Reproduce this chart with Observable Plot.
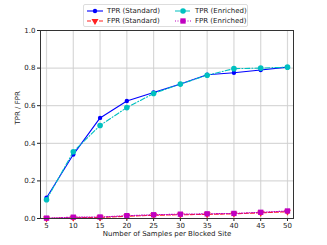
<!DOCTYPE html>
<html>
<head>
<meta charset="utf-8">
<script src="https://cdn.jsdelivr.net/npm/d3@7"></script>
<script src="https://cdn.jsdelivr.net/npm/@observablehq/plot@0.6"></script>
<style>
  html, body { margin: 0; padding: 0; background: #fff; }
  #wrap { position: relative; width: 327px; height: 245px; font-family: "DejaVu Sans", sans-serif; }
  #legend { position: absolute; left: 83px; top: 4px; width: 165px; height: 23px; border: 1px solid #ddd; border-radius: 2px; background: #fff; font-size: 7px; color: #222; box-sizing: border-box; }
  .item { position: absolute; display: flex; align-items: center; height: 10px; white-space: nowrap; }
  .item svg { margin-right: 4px; }
</style>
</head>
<body>
<div id="wrap"><div id="chart"></div><div id="legend"></div></div>
<script>
const samples = [5, 10, 15, 20, 25, 30, 35, 40, 45, 50];
const tprStandard = [0.11, 0.34, 0.535, 0.625, 0.67, 0.715, 0.765, 0.775, 0.79, 0.805];
const fprStandard = [0.0, 0.004, 0.006, 0.012, 0.017, 0.02, 0.022, 0.025, 0.03, 0.036];
const tprEnriched = [0.10, 0.355, 0.495, 0.59, 0.665, 0.715, 0.762, 0.797, 0.80, 0.805];
const fprEnriched = [0.002, 0.007, 0.008, 0.015, 0.02, 0.023, 0.025, 0.027, 0.033, 0.04];
const yTicks = [0, 0.2, 0.4, 0.6, 0.8, 1.0];

const seriesDefs = [
  {name: "TPR (Standard)", values: tprStandard, color: "#0000ff", dash: null, symbol: "circle", r: 2.2, rotate: 0},
  {name: "FPR (Standard)", values: fprStandard, color: "#ff2020", dash: "4,2", symbol: "triangle", r: 2.6, rotate: 180},
  {name: "TPR (Enriched)", values: tprEnriched, color: "#00c0c0", dash: "5,2,1,2", symbol: "circle", r: 2.8, rotate: 0},
  {name: "FPR (Enriched)", values: fprEnriched, color: "#c000c0", dash: "1,1.5", symbol: "square", r: 3, rotate: 0}
];

const marks = [
  Plot.gridX(samples, {stroke: "#d8d8d8", strokeOpacity: 1, strokeWidth: 1.2}),
  Plot.gridY(yTicks, {stroke: "#cfcfcf", strokeOpacity: 1, strokeWidth: 1}),
  Plot.axisX({ticks: samples, tickSize: 3, fontSize: 7, tickPadding: 2, label: null}),
  Plot.axisY({ticks: yTicks, tickSize: 3, fontSize: 7, tickPadding: 2, tickFormat: d3.format(".1f"), label: null}),
  Plot.text(["Number of Samples per Blocked Site"], {frameAnchor: "bottom", dy: 17, fontSize: 7, text: d => d, fill: "#222"}),
  Plot.text(["TPR / FPR"], {frameAnchor: "left", dx: -23, rotate: -90, fontSize: 7, text: d => d, fill: "#222"})
];
for (const s of [seriesDefs[0], seriesDefs[2], seriesDefs[1], seriesDefs[3]]) {
  const data = samples.map((x, i) => ({x, y: s.values[i]}));
  marks.push(Plot.line(data, {x: "x", y: "y", stroke: s.color, strokeWidth: 1.1, strokeDasharray: s.dash || undefined}));
  marks.push(Plot.dot(data, {x: "x", y: "y", fill: s.color, stroke: "none", symbol: s.symbol, r: s.r, rotate: s.rotate}));
}
marks.push(Plot.frame({stroke: "#333", strokeWidth: 1}));

const chart = Plot.plot({
  width: 327, height: 245,
  marginLeft: 40, marginRight: 34, marginTop: 30, marginBottom: 27,
  style: {fontFamily: "DejaVu Sans, sans-serif", fontSize: "7px", color: "#222"},
  x: {domain: [3.875, 51.125]},
  y: {domain: [0, 1]},
  marks
});
document.getElementById("chart").appendChild(chart);

// legend
const legend = document.getElementById("legend");
const pos = [[3, 1], [3, 11], [91, 1], [91, 11]];
seriesDefs.forEach((s, i) => {
  const item = document.createElement("div");
  item.className = "item";
  item.style.left = pos[i][0] + "px";
  item.style.top = pos[i][1] + "px";
  const sym = d3.symbol(s.symbol === "circle" ? d3.symbolCircle : s.symbol === "square" ? d3.symbolSquare : d3.symbolTriangle, Math.PI * s.r * s.r)();
  item.innerHTML = `<svg width="16" height="8"><line x1="0" x2="16" y1="4" y2="4" stroke="${s.color}" stroke-width="1.1" ${s.dash ? `stroke-dasharray="${s.dash}"` : ""}/><path d="${sym}" transform="translate(8,4) rotate(${s.rotate})" fill="${s.color}"/></svg><span>${s.name}</span>`;
  legend.appendChild(item);
});
</script>
</body>
</html>
